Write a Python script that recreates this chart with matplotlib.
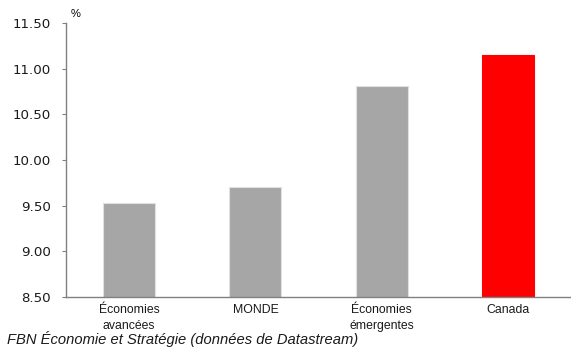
import matplotlib
matplotlib.use("Agg")
import matplotlib.pyplot as plt
import numpy as np

categories = ["Économies\navancées", "MONDE", "Économies\némergentes", "Canada"]
values = [9.53, 9.70, 10.81, 11.15]
bar_colors = ["#a6a6a6", "#a6a6a6", "#a6a6a6", "#ff0000"]
edge_colors = ["#e0e0e0", "#e0e0e0", "#e0e0e0", "#ff0000"]
yticks = [8.5, 9.0, 9.5, 10.0, 10.5, 11.0, 11.5]

fig = plt.figure(figsize=(5.71, 3.49), dpi=100)
ax = fig.add_axes([66 / 571, 1 - 297 / 349, (571 - 66) / 571, (297 - 23) / 349])

x = np.arange(len(categories))
ax.bar(x, values, width=0.41, color=bar_colors, edgecolor=edge_colors, linewidth=0.8,
       zorder=2)

ax.set_ylim(8.5, 11.5)
ax.set_xlim(-0.5, len(categories) - 0.5)
ax.set_yticks(yticks)
ax.set_yticklabels([f"{v:.2f}" for v in yticks], fontsize=9.6, family="DejaVu Sans",
                   color="#1a1a1a")
ax.set_xticks(x)
ax.set_xticklabels(categories, fontsize=8.8, family="Liberation Sans",
                   linespacing=1.45, color="#1a1a1a")
ax.tick_params(axis="x", length=0, pad=5)
ax.tick_params(axis="y", length=3, width=0.8, color="#808080", pad=8)

for side in ["top", "right"]:
    ax.spines[side].set_visible(False)
for side in ["left", "bottom"]:
    ax.spines[side].set_color("#808080")
    ax.spines[side].set_linewidth(1.0)

fig.text(71 / 571, 1 - 14 / 349, "%", fontsize=8, family="Liberation Sans", va="center")
fig.text(7 / 571, 1 - 339 / 349, "FBN Économie et Stratégie (données de Datastream)",
         fontsize=10.6, style="italic", family="Liberation Sans", va="center",
         color="#1a1a1a")

fig.savefig("out.png", dpi=100)
